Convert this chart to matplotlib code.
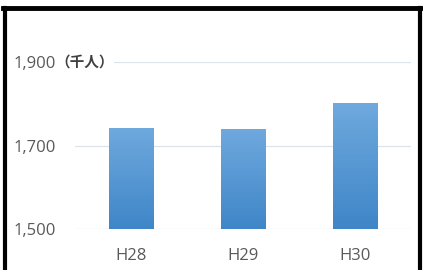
import numpy as np
import matplotlib
matplotlib.use("Agg")
import matplotlib.pyplot as plt
from matplotlib.colors import LinearSegmentedColormap
from matplotlib.lines import Line2D

# data
years = ["H28", "H29", "H30"]
visitors = [1742, 1740, 1802]   # 千人
yticks = [1500, 1700, 1900]

W, H = 423, 270
fig = plt.figure(figsize=(W / 100, H / 100), dpi=100)
fig.patch.set_facecolor("white")
ax = fig.add_axes([75 / W, (H - 229) / H, (411 - 75) / W, (229 - 62) / H])

x = np.arange(len(years))
bars = ax.bar(x, visitors, width=0.4, color="none", edgecolor="none", zorder=2)

# vertical gradient inside each bar
grad = LinearSegmentedColormap.from_list("g", ["#3f86c8", "#6fa9de"])
for b in bars:
    x0, w = b.get_x(), b.get_width()
    y1 = b.get_height()
    img = ax.imshow(np.linspace(0, 1, 100).reshape(-1, 1), cmap=grad,
                    extent=[x0, x0 + w, 1500, y1], origin="lower",
                    aspect="auto", zorder=2)
    img.set_clip_path(b)

ax.set_xlim(-0.5, len(years) - 0.5)
ax.set_ylim(1500, 1900)
ax.set_yticks(yticks)
ax.set_yticklabels([f"{v:,}" for v in yticks])
ax.set_xticks(x)
ax.set_xticklabels(years)
ax.tick_params(length=0, labelsize=12, labelcolor="#595959")
ax.tick_params(axis="y", pad=14)
ax.tick_params(axis="x", pad=14)
for lab in ax.get_xticklabels() + ax.get_yticklabels():
    lab.set_family(["Open Sans", "DejaVu Sans"])
ax.yaxis.grid(True, color="#dde3ea", linewidth=0.9, zorder=0)
ax.set_axisbelow(True)
for s in ax.spines.values():
    s.set_visible(False)
ax.set_facecolor("none")

# unit label next to the top tick
fig.text(55 / W, 1 - 62 / H, "（千人）", fontsize=10.5, color="#404040",
         ha="left", va="center", fontweight="bold",
         family=["Noto Sans CJK JP", "DejaVu Sans"],
         bbox=dict(facecolor="white", edgecolor="none", pad=0))

# black frame (bottom is cut off in the picture)
fig.add_artist(Line2D([4.5 / W, 4.5 / W], [0, 1 - 8 / H], color="black",
                      linewidth=3, transform=fig.transFigure))
fig.add_artist(Line2D([420 / W, 420 / W], [0, 1 - 8 / H], color="black",
                      linewidth=3, transform=fig.transFigure))
fig.add_artist(Line2D([3 / W, 422 / W], [1 - 8 / H, 1 - 8 / H], color="black",
                      linewidth=3.5, transform=fig.transFigure))

fig.savefig("out.png", dpi=100)
